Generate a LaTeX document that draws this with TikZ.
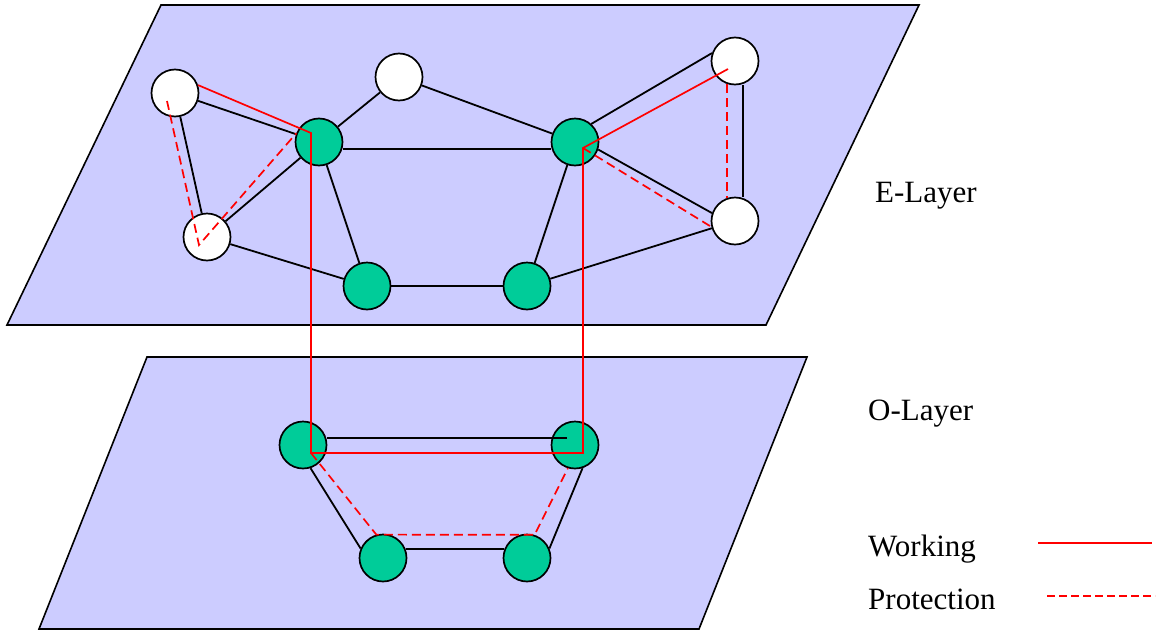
\documentclass[tikz,border=0pt]{standalone}
\usepackage{fontspec}
\setmainfont{Liberation Serif}
\definecolor{plane}{HTML}{CCCCFF}
\definecolor{nodegreen}{HTML}{00CC99}
\tikzset{
  layerplane/.style={fill=plane, draw=black, line width=1.6pt},
  vtx/.style={circle, draw=black, line width=1.7pt, minimum size=47pt, inner sep=0pt},
  wnode/.style={vtx, fill=white},
  gnode/.style={vtx, fill=nodegreen},
  link/.style={draw=black, line width=1.8pt},
  working/.style={draw=red, line width=1.7pt},
  protect/.style={draw=red, line width=1.7pt, dash pattern=on 9pt off 5pt},
  lbl/.style={font=\fontsize{31}{36}\selectfont, anchor=base west, inner sep=0pt}
}
\begin{document}
\begin{tikzpicture}[x=1pt, y=-1pt]
\useasboundingbox (0,0) rectangle (1158,632);
% planes
\draw[layerplane] (161,5) -- (919,5) -- (766,325) -- (7,325) -- cycle;
\draw[layerplane] (147,357) -- (807,357) -- (699,629) -- (39,629) -- cycle;
% E-layer nodes
\node[wnode] (A) at (175,93) {};
\node[wnode] (B) at (399,77) {};
\node[wnode] (C) at (735,61) {};
\node[wnode] (D) at (207,237) {};
\node[wnode] (E) at (735,221) {};
\node[gnode] (F) at (319,142) {};
\node[gnode] (G) at (575,142) {};
\node[gnode] (H) at (367,286) {};
\node[gnode] (I) at (527,286) {};
% O-layer nodes
\node[gnode] (P) at (303,445) {};
\node[gnode] (Q) at (575,445) {};
\node[gnode] (R) at (383,558) {};
\node[gnode] (S) at (527,558) {};
% E-layer links
\draw[link] (A) -- (F);
\draw[link] (A) -- (D);
\draw[link] (D) -- (F);
\draw[link] (D) -- (H);
\draw[link] (F) -- (B);
\draw[link] (B) -- (G);
\draw[link] ([yshift=-7pt]F.east) -- ([yshift=-7pt]G.west);
\draw[link] (F) -- (H);
\draw[link] (H) -- (I);
\draw[link] (I) -- (E);
\draw[link] (G) -- (I);
\draw[link] (G.48) -- (C.161);
\draw[link] (G.-18) -- (E.161);
\draw[link] ([xshift=8pt]C.south) -- ([xshift=8pt]E.north);
% O-layer links
\coordinate (qb) at (567,438);
\draw[link] ([yshift=7pt]P.east) -- (qb);
\draw[link] (P.-72) -- (R.157);
\draw[link] (R.21) -- (S.159);
\draw[link] (Q.-72) -- (S.23);
% working path
\coordinate (fw) at (311,133);
\coordinate (pw) at (311,453);
\coordinate (qw) at (583,453);
\coordinate (gw) at (583,148);
\coordinate (cw) at (728,69);
\draw[working] (A.19) -- (fw) -- (pw) -- (qw) -- (gw) -- (cw);
% protection paths
\coordinate (ap) at (167,101);
\coordinate (dp) at (199,245);
\draw[protect] (ap) -- (dp) -- (F.159);
\draw[protect] (gw) -- (E.194);
\draw[protect] (C.-109.5) -- (E.109.5);
\draw[protect] (pw) -- (R.106) -- (S.72) -- (Q.-107);
% labels
\node[lbl] (el) at (875,202) {E-Layer};
\node[lbl] (ol) at (868,420) {O-Layer};
\node[lbl] (wl) at (868,556) {Working};
\node[lbl] (pl) at (868,609) {Protection};
% legend
\coordinate (w1) at (1038,543);
\coordinate (w2) at (1152,543);
\coordinate (p1) at (1047,596);
\coordinate (p2) at (1155,596);
\draw[working] (w1) -- (w2);
\draw[protect, dash pattern=on 8pt off 4pt] (p1) -- (p2);
\end{tikzpicture}
\end{document}
